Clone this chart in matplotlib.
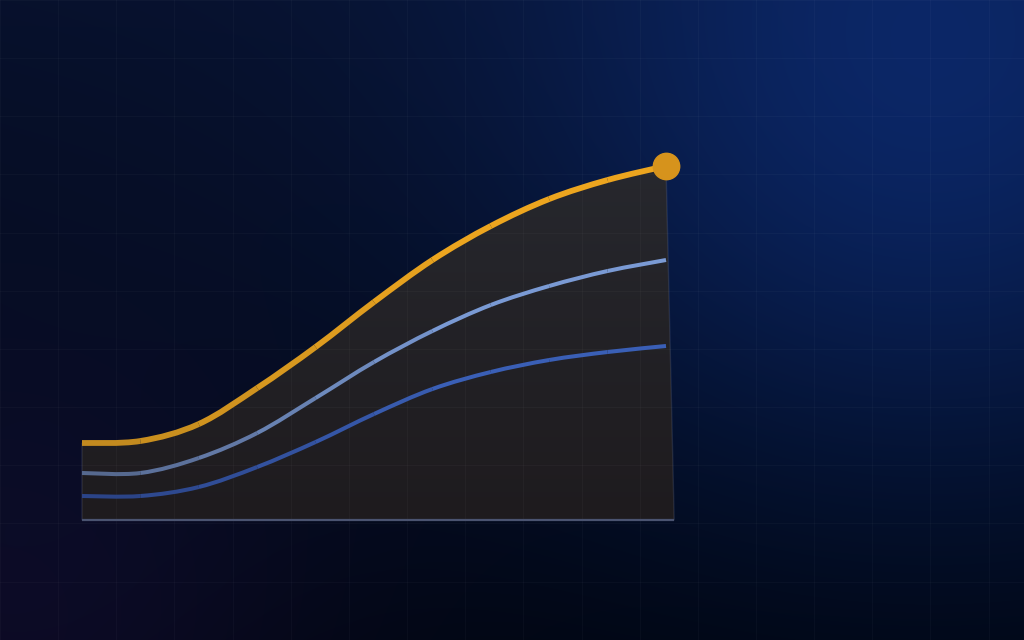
import numpy as np
import matplotlib
matplotlib.use("Agg")
import matplotlib.pyplot as plt
from matplotlib.path import Path
from matplotlib.patches import PathPatch
from matplotlib.colors import to_rgb

# data (height above baseline)
steps = list(range(11))
gold_vals = [77, 79, 96, 132, 173, 218, 260, 294, 321, 340, 354]
light_vals = [47, 47, 62, 87, 122, 158, 189, 215, 234, 249, 260]
blue_vals = [24, 24, 33, 53, 78, 106, 131, 148, 160, 168, 174]
fill_end = 10.14

W, H = 1024, 640
fig = plt.figure(figsize=(W / 100, H / 100), dpi=100)

# background glow
bg = fig.add_axes([0, 0, 1, 1])
yy, xx = np.mgrid[0:H, 0:W].astype(float)
top = np.array(to_rgb("#07102a"))
bot = np.array(to_rgb("#01040d"))
t = (yy / H)[..., None]
img = top * (1 - t) + bot * t
d1 = np.hypot(xx - 930, yy - 100)
img += np.array([0.02, 0.075, 0.2]) * np.exp(-(d1 / 380) ** 2)[..., None]
img += np.array([0.0, 0.02, 0.05]) * np.exp(-(d1 / 700) ** 2)[..., None]
d2 = np.hypot(xx - 0, yy - 660)
img += np.array([0.045, 0.025, 0.09]) * np.exp(-(d2 / 320) ** 2)[..., None]
bg.imshow(np.clip(img, 0, 1), extent=[0, W, H, 0], aspect="auto")
bg.set_xlim(0, W)
bg.set_ylim(H, 0)
bg.axis("off")

# main axes, 1 step = 58.4 px, baseline 120 px from bottom
ax = fig.add_axes([0, 0, 1, 1])
ax.set_xlim(-82 / 58.4, (W - 82) / 58.4)
ax.set_ylim(-120, 520)
ax.patch.set_alpha(0)
ax.axis("off")


def bezier(xs, ys):
    pts = np.column_stack([xs, ys]).astype(float)
    n = len(pts)
    segs = []
    for i in range(n - 1):
        p0 = pts[max(i - 1, 0)]
        p1 = pts[i]
        p2 = pts[i + 1]
        p3 = pts[min(i + 2, n - 1)]
        c1 = p1 + (p2 - p0) / 6
        c2 = p2 - (p3 - p1) / 6
        segs.append((p1, c1, c2, p2))
    return segs


def draw_line(vals, c_start, c_end, lw, z):
    segs = bezier(steps, vals)
    a = np.array(to_rgb(c_start))
    b = np.array(to_rgb(c_end))
    for k, (p1, c1, c2, p2) in enumerate(segs):
        f = min(1, k / (len(segs) * 0.6))
        col = a * (1 - f) + b * f
        path = Path([p1, c1, c2, p2], [Path.MOVETO, Path.CURVE4, Path.CURVE4, Path.CURVE4])
        ax.add_patch(PathPatch(path, facecolor="none", edgecolor=col, lw=lw,
                               capstyle="butt", joinstyle="round", zorder=z))


# area under the gold line
segs = bezier(steps, gold_vals)
verts = [segs[0][0]]
codes = [Path.MOVETO]
for p1, c1, c2, p2 in segs:
    verts += [c1, c2, p2]
    codes += [Path.CURVE4] * 3
verts += [(fill_end, 0), (0, 0), (0, 0)]
codes += [Path.LINETO, Path.LINETO, Path.CLOSEPOLY]
area = PathPatch(Path(verts, codes), facecolor="none",
                 edgecolor=(0.6, 0.65, 0.8, 0.15), lw=1, zorder=2)
ax.add_patch(area)
g = np.linspace(0, 1, 256)[:, None]
ftop = np.array(to_rgb("#27282e"))
fbot = np.array(to_rgb("#1e1b1e"))
grad = ftop[None, None, :] * (1 - g[..., None]) + fbot[None, None, :] * g[..., None]
im = ax.imshow(grad, extent=[0, fill_end + 0.1, 0, max(gold_vals) + 5],
               aspect="auto", zorder=1, origin="upper")
im.set_clip_path(area)
ax.plot([0, fill_end], [0, 0], color="#4a5370", lw=1.6, zorder=3,
        solid_capstyle="butt")

# faint grid
for gx in np.arange(0, W, 58.15):
    ax.axvline((gx - 82) / 58.4, color="white", alpha=0.028, lw=1, zorder=2.5)
for gy in np.arange(0, H, 58.15):
    ax.axhline(520 - gy, color="white", alpha=0.028, lw=1, zorder=2.5)

draw_line(blue_vals, "#2b4488", "#3a5fb6", 2.9, 4)
draw_line(light_vals, "#56698f", "#7a9ad4", 2.9, 5)
draw_line(gold_vals, "#c28a1f", "#eca51f", 4.2, 6)
ax.plot(steps[-1], gold_vals[-1], "o", ms=19, color="#d6931c", zorder=7)

fig.savefig("out.png", dpi=100)
